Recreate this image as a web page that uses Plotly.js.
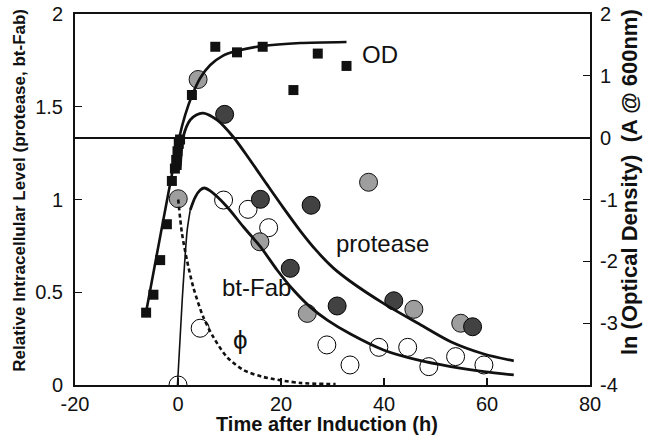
<!DOCTYPE html>
<html>
<head>
<meta charset="utf-8">
<script src="https://cdn.plot.ly/plotly-3.0.1.min.js"></script>
<style>html,body{margin:0;padding:0;background:#fff;}#chart{width:646px;height:447px;}</style>
</head>
<body>
<div id="chart"></div>
<script>
// ---- data ----
// bt-Fab measurements (open circles), left axis
const fabTime  = [0, 4.3, 8.85, 13.6, 17.6, 28.9, 33.4, 39.0, 44.6, 48.7, 53.9, 59.4];
const fabLevel = [0.0, 0.306, 0.997, 0.947, 0.848, 0.216, 0.108, 0.203, 0.203, 0.099, 0.153, 0.108];
// protease measurements, replicate A (light pattern), left axis
const protATime  = [0.05, 3.9, 15.9, 25.1, 37.0, 45.8, 54.9];
const protALevel = [1.004, 1.647, 0.772, 0.386, 1.093, 0.408, 0.333];
// protease measurements, replicate B (dark pattern), left axis
const protBTime  = [9.05, 16.0, 21.8, 25.85, 30.9, 41.9, 57.2];
const protBLevel = [1.459, 1.001, 0.629, 0.969, 0.426, 0.454, 0.314];
// optical density measurements (squares), right axis ln(OD)
const odTime = [-6.19, -4.77, -3.46, -2.16, -1.19, -0.6, -0.35, -0.1, 0.15, 0.4, 2.7, 7.24, 11.46, 16.44, 22.41, 27.14, 32.72];
const odLn   = [-2.83, -2.54, -1.98, -1.40, -0.70, -0.50, -0.36, -0.22, -0.10, -0.03, 0.69, 1.47, 1.38, 1.47, 0.77, 1.36, 1.16];

// fitted curves
const odFitTime = [-6.19, 0.23, 1.40, 2.76, 4.32, 6.26, 8.6, 11.32, 16.38, 23.77, 32.72];
const odFitLn   = [-2.82, -0.005, 0.367, 0.69, 0.965, 1.175, 1.32, 1.40, 1.483, 1.531, 1.547];
const protFitTime  = [0.43, 1.01, 2.37, 3.54, 4.9, 7.57, 10.74, 14.05, 17.3, 20.47, 23.77, 27.02, 30.19, 33.5, 39.9, 46.5, 52.96, 59.4, 65.2];
const protFitLevel = [1.159, 1.337, 1.429, 1.456, 1.466, 1.429, 1.337, 1.21, 1.08, 0.955, 0.83, 0.72, 0.63, 0.558, 0.44, 0.334, 0.233, 0.167, 0.13];
const fabRiseTime  = [-0.1, 0.82, 1.79, 2.37];
const fabRiseLevel = [0.0, 0.458, 0.836, 0.943];
const fabFitTime  = [2.37, 3.35, 4.32, 5.1, 6.26, 9.51, 12.68, 15.99, 19.24, 22.41, 25.7, 29.0, 33.5, 39.9, 46.5, 52.96, 59.4, 65.2];
const fabFitLevel = [0.943, 1.013, 1.051, 1.062, 1.046, 0.961, 0.853, 0.746, 0.62, 0.512, 0.42, 0.35, 0.275, 0.189, 0.135, 0.099, 0.072, 0.054];
const phiTime  = [0.04, 0.76, 1.73, 2.96, 4.9, 6.85, 9.5, 12.7, 16.6, 23.8, 30.6];
const phiLevel = [1.0, 0.82, 0.674, 0.528, 0.367, 0.259, 0.151, 0.081, 0.043, 0.011, 0.005];

// tick labels
const xTicks = [-20, 0, 20, 40, 60, 80];
const xTickText = ["-20", "0", "20", "40", "60", "80"];
const yTicks = [0, 0.5, 1, 1.5, 2];
const yTickText = ["0", "0.5", "1", "1.5", "2"];
const y2Ticks = [-4, -3, -2, -1, 0, 1, 2];
const y2TickText = ["-4", "-3", "-2", "-1", "0", "1", "2"];

const FONT = "Liberation Sans, Arial, Helvetica, sans-serif";

const traces = [
  {x: fabTime, y: fabLevel, type: 'scatter', mode: 'markers', name: 'bt-Fab',
   marker: {symbol: 'circle', size: 18, color: 'rgba(255,255,255,0)', line: {color: '#000', width: 1}}},
  {x: protATime, y: protALevel, type: 'scatter', mode: 'markers', name: 'protease A',
   marker: {symbol: 'circle', size: 18, color: '#9e9e9e', line: {color: '#111', width: 1}}},
  {x: protBTime, y: protBLevel, type: 'scatter', mode: 'markers', name: 'protease B',
   marker: {symbol: 'circle', size: 18, color: '#424242', line: {color: '#000', width: 1}}},
  {x: odTime, y: odLn, type: 'scatter', mode: 'markers', name: 'OD', yaxis: 'y2',
   marker: {symbol: 'square', size: 10, color: '#111', line: {width: 0}}},
  {x: odFitTime, y: odFitLn, type: 'scatter', mode: 'lines', yaxis: 'y2',
   line: {color: '#111', width: 2.6, shape: 'spline', smoothing: 0.6}},
  {x: protFitTime, y: protFitLevel, type: 'scatter', mode: 'lines',
   line: {color: '#111', width: 2.8, shape: 'spline', smoothing: 0.8}},
  {x: fabRiseTime, y: fabRiseLevel, type: 'scatter', mode: 'lines',
   line: {color: '#111', width: 1.6, shape: 'spline', smoothing: 0.6}},
  {x: fabFitTime, y: fabFitLevel, type: 'scatter', mode: 'lines',
   line: {color: '#111', width: 2.8, shape: 'spline', smoothing: 0.8}},
  {x: phiTime, y: phiLevel, type: 'scatter', mode: 'lines',
   line: {color: '#111', width: 2.6, dash: '4px,3px', shape: 'spline', smoothing: 0.8}}
];

const axisCommon = {
  showgrid: false, showline: true, linecolor: '#111', linewidth: 2,
  ticks: 'inside', ticklen: 7, tickwidth: 1.2, tickcolor: '#111',
  tickfont: {family: FONT, size: 20, color: '#111'}, tickmode: 'array'
};

const layout = {
  width: 646, height: 447,
  margin: {l: 75, r: 56, t: 14, b: 62, pad: 0},
  paper_bgcolor: '#fff', plot_bgcolor: '#fff',
  showlegend: false,
  font: {family: FONT, color: '#111'},
  xaxis: Object.assign({}, axisCommon, {
    range: [-20, 80], tickvals: xTicks, ticktext: xTickText, zeroline: false, mirror: true,
    ticklabelstandoff: 0
  }),
  yaxis: Object.assign({}, axisCommon, {
    range: [0, 2], tickvals: yTicks, ticktext: yTickText, zeroline: false,
    ticklabelstandoff: 6
  }),
  yaxis2: Object.assign({}, axisCommon, {
    range: [-4, 2], tickvals: y2Ticks, ticktext: y2TickText, overlaying: 'y', side: 'right',
    zeroline: true, zerolinecolor: '#111', zerolinewidth: 2,
    ticklabelstandoff: 4
  }),
  annotations: [
    // axis titles
    {xref: 'paper', yref: 'paper', x: 0.489, y: -0.106, xanchor: 'center', yanchor: 'middle', showarrow: false,
     text: '<b>Time after Induction (h)</b>', font: {family: FONT, size: 20, color: '#111'}},
    {xref: 'paper', yref: 'paper', x: -0.107, y: 0.526, xanchor: 'center', yanchor: 'middle', showarrow: false, textangle: -90,
     text: '<b>Relative Intracellular Level (protease, bt-Fab)</b>', font: {family: FONT, size: 17, color: '#111'}},
    {xref: 'paper', yref: 'paper', x: 1.0757, y: 0.547, xanchor: 'center', yanchor: 'middle', showarrow: false, textangle: -90,
     text: '<b>ln (Optical Density)\u00a0\u00a0(A @ 600nm)</b>', font: {family: FONT, size: 22, color: '#111'}},
    // in-plot labels
    {x: 39.3, y: 1.784, xref: 'x', yref: 'y', text: 'OD', showarrow: false, font: {family: FONT, size: 24, color: '#111'}},
    {x: 39.7, y: 0.765, xref: 'x', yref: 'y', text: 'protease', showarrow: false, font: {family: FONT, size: 24, color: '#111'}},
    {x: 15.2, y: 0.523, xref: 'x', yref: 'y', text: 'bt-Fab', showarrow: false, font: {family: FONT, size: 24, color: '#111'}},
    {x: 12.1, y: 0.243, xref: 'x', yref: 'y', text: '\u03D5', showarrow: false, font: {family: FONT, size: 26, color: '#111'}}
  ]
};

Plotly.newPlot('chart', traces, layout, {displayModeBar: false, staticPlot: true});
</script>
</body>
</html>
